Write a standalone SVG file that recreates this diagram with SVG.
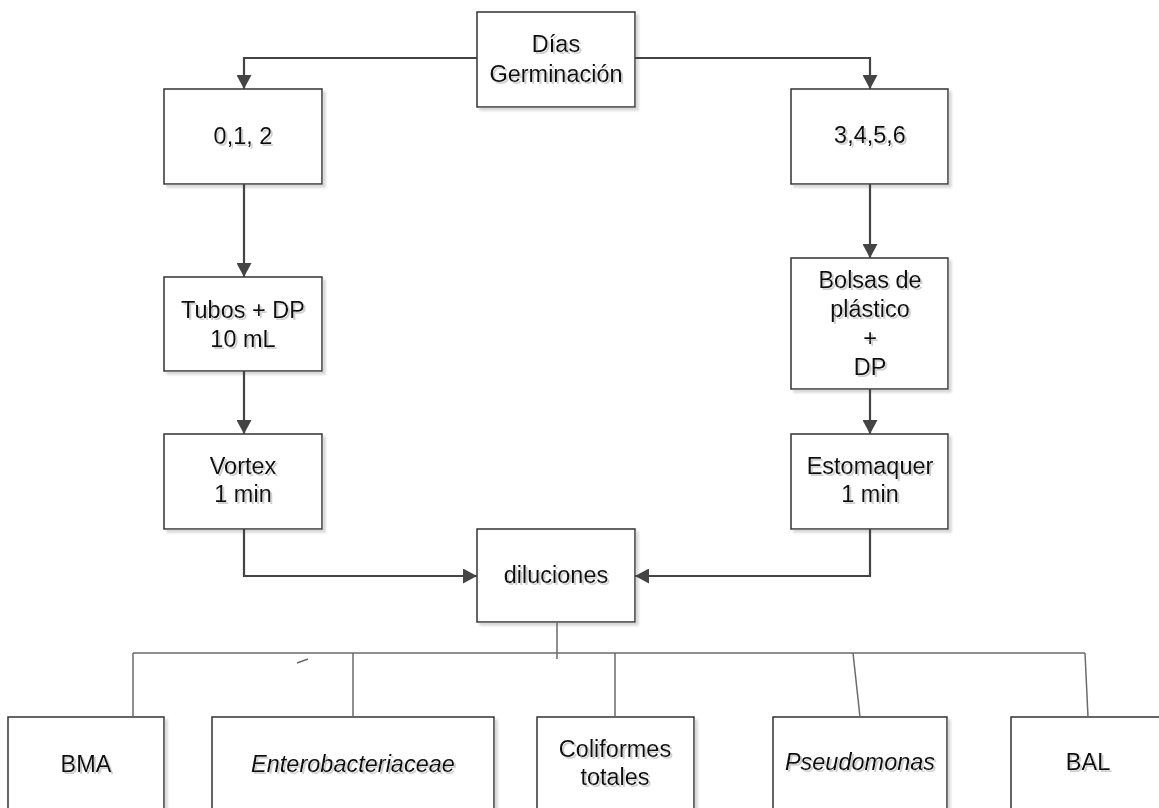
<svg xmlns="http://www.w3.org/2000/svg" width="1159" height="808" viewBox="0 0 1159 808">
  <defs>
    <style>
      .box { fill: #ffffff; stroke: #333333; stroke-width: 1.5; filter: url(#boxShadow); }
      .lbl { font-family: "Liberation Sans", Arial, sans-serif; font-size: 23.5px; fill: #0d0d0d; text-anchor: middle; filter: url(#txtShadow); }
      .it { font-style: italic; }
      .flow { fill: none; stroke: #444444; stroke-width: 2.2; }
      .tree { fill: none; stroke: #6a6a6a; stroke-width: 1.5; }
    </style>
    <filter id="boxShadow" x="-5%" y="-5%" width="115%" height="115%">
      <feDropShadow dx="3" dy="3" stdDeviation="0.8" flood-color="#d8d8d8" flood-opacity="1"/>
    </filter>
    <filter id="txtShadow" x="-5%" y="-20%" width="115%" height="150%">
      <feDropShadow dx="2" dy="2" stdDeviation="0.6" flood-color="#cfcfcf" flood-opacity="1"/>
    </filter>
    <marker id="arrow" viewBox="0 0 14 15" refX="14" refY="7.5" markerWidth="14" markerHeight="15" markerUnits="userSpaceOnUse" orient="auto">
      <path d="M0,0 L14,7.5 L0,15 z" fill="#444444"/>
    </marker>
  </defs>

  <g id="dias">
    <rect class="box" x="477" y="12" width="158" height="95"/>
    <text class="lbl" x="556" y="52">Días</text>
    <text class="lbl" x="556" y="82">Germinación</text>
  </g>

  <g id="d012">
    <rect class="box" x="164" y="89" width="158" height="95"/>
    <text class="lbl" x="243" y="144">0,1, 2</text>
  </g>

  <g id="d3456">
    <rect class="box" x="791" y="89" width="157" height="95"/>
    <text class="lbl" x="870" y="143">3,4,5,6</text>
  </g>

  <g id="tubos">
    <rect class="box" x="164" y="277" width="158" height="94"/>
    <text class="lbl" x="243" y="318">Tubos + DP</text>
    <text class="lbl" x="243" y="347">10 mL</text>
  </g>

  <g id="bolsas">
    <rect class="box" x="791" y="258" width="157" height="131"/>
    <text class="lbl" x="870" y="288">Bolsas de</text>
    <text class="lbl" x="870" y="317">plástico</text>
    <text class="lbl" x="870" y="346">+</text>
    <text class="lbl" x="870" y="375">DP</text>
  </g>

  <g id="vortex">
    <rect class="box" x="164" y="434" width="158" height="95"/>
    <text class="lbl" x="243" y="474">Vortex</text>
    <text class="lbl" x="243" y="502">1 min</text>
  </g>

  <g id="estomaquer">
    <rect class="box" x="791" y="434" width="157" height="95"/>
    <text class="lbl" x="870" y="474">Estomaquer</text>
    <text class="lbl" x="870" y="502">1 min</text>
  </g>

  <g id="diluciones">
    <rect class="box" x="477" y="529" width="158" height="93"/>
    <text class="lbl" x="556" y="583">diluciones</text>
  </g>

  <g id="bma">
    <rect class="box" x="8" y="717" width="156" height="110"/>
    <text class="lbl" x="86" y="772">BMA</text>
  </g>

  <g id="entero">
    <rect class="box" x="212" y="717" width="282" height="110"/>
    <text class="lbl it" x="353" y="772">Enterobacteriaceae</text>
  </g>

  <g id="coliformes">
    <rect class="box" x="537" y="717" width="157" height="110"/>
    <text class="lbl" x="615" y="757">Coliformes</text>
    <text class="lbl" x="615" y="785">totales</text>
  </g>

  <g id="pseudomonas">
    <rect class="box" x="773" y="717" width="174" height="110"/>
    <text class="lbl it" x="860" y="770">Pseudomonas</text>
  </g>

  <g id="bal">
    <rect class="box" x="1011" y="717" width="160" height="110"/>
    <text class="lbl" x="1088" y="770">BAL</text>
  </g>

  <!-- connectors, drawn last so they meet the box edges -->
  <g id="connectors">
    <path class="flow" d="M477,58 H244 V89" marker-end="url(#arrow)"/>
    <path class="flow" d="M635,58 H870 V89" marker-end="url(#arrow)"/>
    <path class="flow" d="M244,184 V277" marker-end="url(#arrow)"/>
    <path class="flow" d="M244,371 V434" marker-end="url(#arrow)"/>
    <path class="flow" d="M870,184 V258" marker-end="url(#arrow)"/>
    <path class="flow" d="M870,389 V434" marker-end="url(#arrow)"/>
    <path class="flow" d="M244,529 V576 H477" marker-end="url(#arrow)"/>
    <path class="flow" d="M870,529 V576 H635" marker-end="url(#arrow)"/>
    <!-- branching to the media -->
    <path class="tree" d="M557,622 V659"/>
    <path class="tree" d="M133,653 H1085"/>
    <path class="tree" d="M133,653 V717"/>
    <path class="tree" d="M353,653 V717"/>
    <path class="tree" d="M615,653 V717"/>
    <path class="tree" d="M853,653 L860,717"/>
    <path class="tree" d="M1085,653 L1088,717"/>
    <path class="tree" d="M297,663 L308,659" stroke-width="1"/>
  </g>
</svg>
